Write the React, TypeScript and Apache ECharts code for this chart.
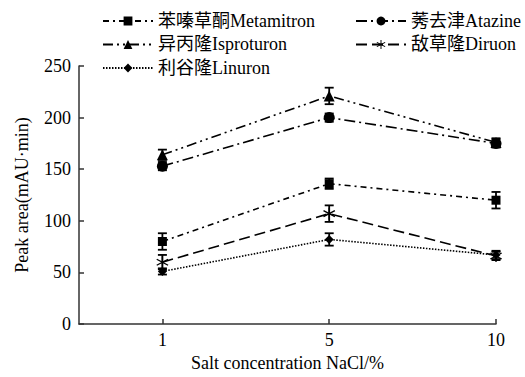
import React, { useEffect, useRef } from "react";
import * as echarts from "echarts";

const xLabels = ["1", "5", "10"];
const xPos = [1, 3, 5];

const metamitron = [80, 136, 120];
const metamitronErr = [8, 5, 8];
const atrazine = [153, 200, 175];
const atrazineErr = [4, 4, 4];
const isoproturon = [164, 221, 176];
const isoproturonErr = [5, 8, 4];
const diuron = [60, 107, 66];
const diuronErr = [7, 8, 4];
const linuron = [51, 82, 67];
const linuronErr = [3, 6, 4];

const names = {
  met: "苯嗪草酮Metamitron",
  atr: "莠去津Atazine",
  iso: "异丙隆Isproturon",
  diu: "敌草隆Diruon",
  lin: "利谷隆Linuron",
};

const FONT = "'Liberation Serif', 'Noto Sans CJK SC', serif";

const asterisk =
  "path://M0.5,-5 L0.5,5 L-0.5,5 L-0.5,-5 Z " +
  "M-4.08,-2.93 L4.58,2.07 L4.08,2.93 L-4.58,-2.07 Z " +
  "M-4.58,2.07 L4.08,-2.93 L4.58,-2.07 L-4.08,2.93 Z";

function lineSeries(name: string, vals: number[], symbol: string, size: number, dash: any) {
  return {
    type: "line",
    name,
    data: vals.map((v, i) => [xPos[i], v]),
    symbol,
    symbolSize: size,
    showAllSymbol: true,
    itemStyle: { color: "#000" },
    lineStyle: { color: "#000", width: 1.6, type: dash },
    z: 3,
  };
}

function errSeries(vals: number[], errs: number[]) {
  return {
    type: "custom",
    data: vals.map((v, i) => [xPos[i], v - errs[i], v + errs[i]]),
    encode: { x: 0, y: [1, 2] },
    z: 4,
    silent: true,
    renderItem: (params: any, api: any) => {
      const x = api.value(0);
      const lo = api.coord([x, api.value(1)]);
      const hi = api.coord([x, api.value(2)]);
      const hw = 4.5;
      const style = { stroke: "#000", lineWidth: 1.8 };
      return {
        type: "group",
        children: [
          { type: "line", shape: { x1: lo[0], y1: lo[1], x2: hi[0], y2: hi[1] }, style },
          { type: "line", shape: { x1: lo[0] - hw, y1: lo[1], x2: lo[0] + hw, y2: lo[1] }, style },
          { type: "line", shape: { x1: hi[0] - hw, y1: hi[1], x2: hi[0] + hw, y2: hi[1] }, style },
        ],
      };
    },
  };
}

export default function App() {
  const ref = useRef<HTMLDivElement>(null);
  useEffect(() => {
    const chart = echarts.init(ref.current!, null, { renderer: "svg" });
    const legendCommon = {
      orient: "vertical",
      top: 7,
      itemWidth: 50,
      itemHeight: 11,
      itemGap: 5.5,
      textStyle: { fontFamily: FONT, fontSize: 18, color: "#000" },
    };
    chart.setOption({
      animation: false,
      backgroundColor: "#fff",
      legend: [
        { ...legendCommon, left: 97, data: [names.met, names.iso, names.lin] },
        { ...legendCommon, left: 350, data: [names.atr, names.diu] },
      ],
      grid: { left: 79, right: 29, top: 66, bottom: 51 },
      xAxis: {
        type: "value",
        min: 0,
        max: 5,
        name: "Salt concentration NaCl/%",
        nameLocation: "middle",
        nameGap: 24,
        nameTextStyle: { fontFamily: FONT, fontSize: 18, color: "#000" },
        axisLine: { show: true, lineStyle: { color: "#333", width: 1.5 } },
        axisTick: { show: true, inside: true, length: 5, customValues: xPos, lineStyle: { color: "#333", width: 1.5 } },
        axisLabel: {
          customValues: xPos,
          margin: 7,
          fontFamily: FONT,
          fontSize: 18,
          color: "#000",
          formatter: (v: number) => {
            const i = xPos.indexOf(Math.round(v));
            return i >= 0 ? xLabels[i] : "";
          },
        },
        splitLine: { show: false },
      },
      yAxis: {
        type: "value",
        min: 0,
        max: 250,
        interval: 50,
        name: "Peak area(mAU·min)",
        nameLocation: "middle",
        nameGap: 48,
        nameTextStyle: { fontFamily: FONT, fontSize: 18, color: "#000" },
        axisLine: { show: true, lineStyle: { color: "#333", width: 1.5 } },
        axisTick: { show: true, inside: true, length: 5, lineStyle: { color: "#333", width: 1.5 } },
        axisLabel: { margin: 8, fontFamily: FONT, fontSize: 18, color: "#000" },
        splitLine: { show: false },
      },
      series: [
        lineSeries(names.met, metamitron, "rect", 9, [6, 4, 2, 4]),
        lineSeries(names.atr, atrazine, "circle", 11, [11, 4, 2, 4]),
        lineSeries(names.iso, isoproturon, "triangle", 11, [10, 4, 2, 4, 2, 4]),
        lineSeries(names.diu, diuron, asterisk, 12, [11, 5]),
        lineSeries(names.lin, linuron, "diamond", 9, [1.5, 1.5]),
        errSeries(metamitron, metamitronErr),
        errSeries(atrazine, atrazineErr),
        errSeries(isoproturon, isoproturonErr),
        errSeries(diuron, diuronErr),
        errSeries(linuron, linuronErr),
      ],
    });
    return () => chart.dispose();
  }, []);
  return <div ref={ref} style={{ width: 525, height: 377, position: "absolute", left: 0, top: 0 }} />;
}
